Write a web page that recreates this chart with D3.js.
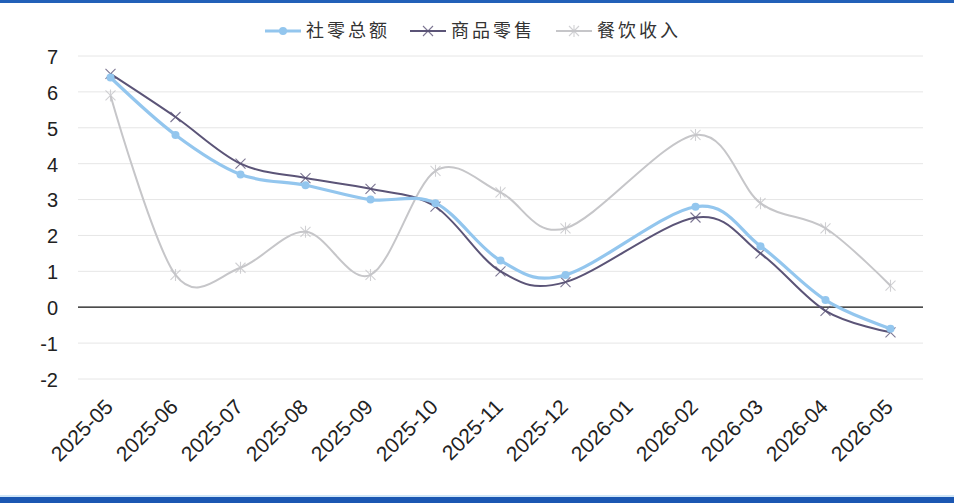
<!DOCTYPE html>
<html>
<head>
<meta charset="utf-8">
<style>
    body { margin: 0; background: #fff; }
    svg { display: block; }
</style>
</head>
<body>
<svg id="chart" width="954" height="503"></svg>
<script src="https://cdn.jsdelivr.net/npm/d3@7"></script>
<script>
    // months on the x axis (2026-01 has no data, Jan-Feb reported together)
    const months = ["2025-05","2025-06","2025-07","2025-08","2025-09","2025-10","2025-11",
                    "2025-12","2026-01","2026-02","2026-03","2026-04","2026-05"]
    const retailTotal = [6.4, 4.8, 3.7, 3.4, 3.0, 2.9, 1.3, 0.9, null, 2.8, 1.7, 0.2, -0.6]
    const goodsRetail = [6.5, 5.3, 4.0, 3.6, 3.3, 2.8, 1.0, 0.7, null, 2.5, 1.5, -0.1, -0.7]
    const cateringIncome = [5.9, 0.9, 1.1, 2.1, 0.9, 3.8, 3.2, 2.2, null, 4.8, 2.9, 2.2, 0.6]
    const yTicks = [-2, -1, 0, 1, 2, 3, 4, 5, 6, 7]

    const series = [
        { name: "社零总额", values: retailTotal, color: "#93c6ee", width: 3.2, marker: "circle" },
        { name: "商品零售", values: goodsRetail, color: "#5b5477", width: 2, marker: "x" },
        { name: "餐饮收入", values: cateringIncome, color: "#c6c6c9", width: 2, marker: "star" }
    ]

    let svg = d3.select("#chart")

    // blue bands at top and bottom of the picture
    svg.append("rect").attr("x", 0).attr("y", 0).attr("width", 954).attr("height", 3).style("fill", "#2260b8")
    svg.append("rect").attr("x", 0).attr("y", 497).attr("width", 954).attr("height", 6).style("fill", "#1b57b2")
    svg.append("rect").attr("x", 0).attr("y", 495).attr("width", 954).attr("height", 2).style("fill", "#cfe6f8")

    let x = d3.scalePoint().domain(months).range([78, 923]).padding(0.5)
    let y = d3.scaleLinear().domain([-2, 7]).range([379, 56])

    // gridlines
    svg.append("g").selectAll("line")
        .data(yTicks.filter(d => d != 0))
        .enter().append("line")
        .attr("x1", 78).attr("x2", 923)
        .attr("y1", d => y(d)).attr("y2", d => y(d))
        .style("stroke", "#e6e6e6").style("stroke-width", 1)

    // zero line
    svg.append("line")
        .attr("x1", 78).attr("x2", 923)
        .attr("y1", y(0)).attr("y2", y(0))
        .style("stroke", "#111").style("stroke-width", 1.2)

    // y axis labels
    let yAxis = d3.axisLeft(y).tickValues(yTicks).tickSize(0).tickPadding(0)
        .tickFormat(d => String(d))
    let yg = svg.append("g").attr("transform", "translate(58,1)").call(yAxis)
    yg.select(".domain").remove()
    yg.selectAll("text")
        .style("font-family", "Liberation Sans, Arial, sans-serif")
        .style("font-size", "20px").style("fill", "#222")

    // x axis labels, rotated
    let xAxis = d3.axisBottom(x).tickSize(0).tickPadding(0)
    let xg = svg.append("g").attr("transform", "translate(0,388)").call(xAxis)
    xg.select(".domain").remove()
    xg.selectAll("text")
        .style("font-family", "Liberation Sans, Arial, sans-serif")
        .style("font-size", "21px").style("fill", "#222")
        .attr("text-anchor", "end")
        .attr("y", 0)
        .attr("dy", "0.35em")
        .attr("transform", "translate(-2,15) rotate(-45)")

    let line = d3.line()
        .defined(d => d.v != null)
        .x(d => x(d.m))
        .y(d => y(d.v))
        .curve(d3.curveCardinal.tension(0))

    function drawMarker(g, type, color, cx, cy) {
        if (type == "circle") {
            g.append("circle").attr("cx", cx).attr("cy", cy).attr("r", 4).style("fill", color)
        } else {
            let s = 5
            let p = "M" + (cx - s) + "," + (cy - s) + "L" + (cx + s) + "," + (cy + s) +
                    "M" + (cx - s) + "," + (cy + s) + "L" + (cx + s) + "," + (cy - s)
            if (type == "star") p += "M" + cx + "," + (cy - s - 1) + "L" + cx + "," + (cy + s + 1)
            g.append("path").attr("d", p).style("stroke", color).style("stroke-width", 1.1)
                .style("fill", "none").style("opacity", 0.8)
        }
    }

    // draw back to front so light blue sits over the others
    series.slice().reverse().forEach(s => {
        let pts = months.map((m, i) => ({ m: m, v: s.values[i] })).filter(d => d.v != null)
        let g = svg.append("g")
        g.append("path")
            .datum(pts)
            .attr("d", line)
            .style("fill", "none")
            .style("stroke", s.color)
            .style("stroke-width", s.width)
        pts.forEach(d => drawMarker(g, s.marker, s.color, x(d.m), y(d.v)))
    })

    // legend
    let legendX = [265, 410, 556]
    series.forEach((s, i) => {
        let g = svg.append("g").attr("transform", "translate(" + legendX[i] + ",31)")
        g.append("line").attr("x1", 0).attr("x2", 36).attr("y1", 0).attr("y2", 0)
            .style("stroke", s.color).style("stroke-width", s.width)
        drawMarker(g, s.marker, s.color, 18, 0)
        g.append("text").attr("x", 41).attr("y", 0).attr("dy", "0.35em")
            .text(s.name)
            .style("font-family", "Noto Sans CJK SC, sans-serif")
            .style("font-size", "18px").style("fill", "#333")
            .style("letter-spacing", "3px")
    })
</script>
</body>
</html>
